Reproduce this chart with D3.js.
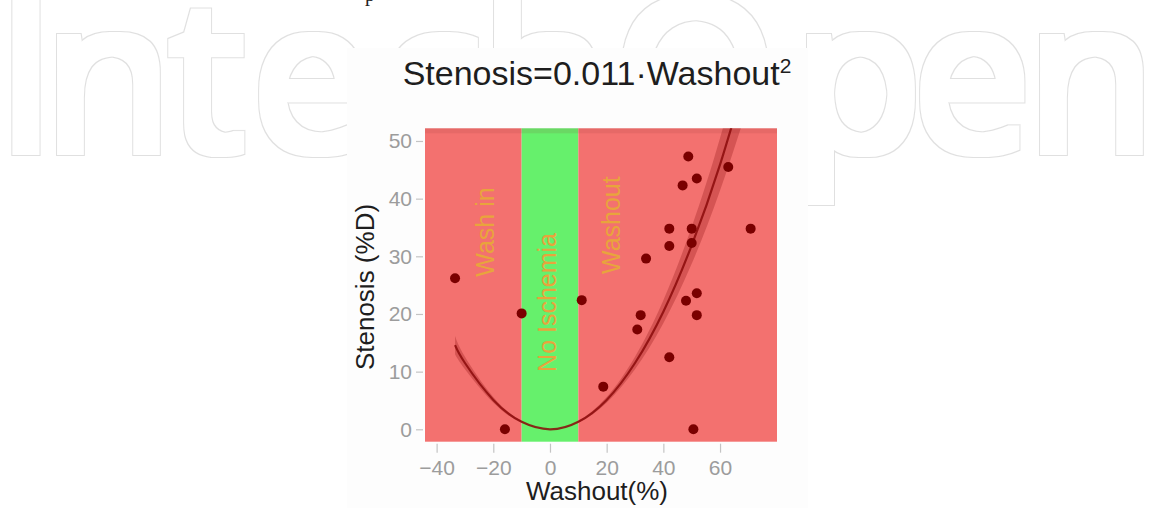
<!DOCTYPE html>
<html>
<head>
<meta charset="utf-8">
<script src="https://cdn.jsdelivr.net/npm/d3@7"></script>
<style>
    body { margin: 0; background: #ffffff; }
    svg { display: block; }
</style>
</head>
<body>
<div id="my_dataviz"></div>
<script>
// measured points (Washout %, Stenosis %D)
var washout = [-33.5, -15.9, -10.0, 11.2, 18.8, 30.8, 32.0, 33.9, 42.1, 42.1, 42.1,
    46.8, 48.0, 48.8, 50.0, 50.0, 50.6, 51.8, 51.8, 51.8, 62.9, 70.8];
var stenosis = [26.2, 0.0, 20.1, 22.4, 7.4, 17.3, 19.8, 29.6, 12.5, 31.8, 34.8,
    42.3, 22.3, 47.3, 32.3, 34.8, 0.0, 43.5, 23.6, 19.8, 45.5, 34.8];

// fitted curve and its band
var fitX = [-33.5, -30, -20, -10, 0, 10, 20, 30, 40, 50, 60, 70];
var fitY = [14.6, 11.5, 5.1, 1.3, 0, 1.3, 5.1, 11.5, 20.4, 31.9, 45.9, 62.5];
var fitLow = [13.0, 10.4, 4.6, 1.15, 0, 1.15, 4.6, 10.4, 18.4, 28.7, 41.4, 56.3];
var fitHigh = [16.2, 12.6, 5.6, 1.45, 0, 1.45, 5.6, 12.6, 22.4, 35.1, 50.5, 68.8];

// zones
var zoneNames = ["Wash in", "No Ischemia", "Washout"];
var zoneStart = [-44.1, -10, 10];
var zoneEnd = [-10, 10, 80.1];
var zoneColors = ["#f3716f", "#66f06c", "#f3716f"];
var zoneLabelX = [-23, -1, 21.5];
var zoneLabelY = [34.2, 22, 35.4];

var xTicks = [-40, -20, 0, 20, 40, 60];
var yTicks = [0, 10, 20, 30, 40, 50];

// watermark letters and where they sit
var markLetters = ["I", "n", "t", "e", "c", "h", "O", "p", "e", "n"];
var markCenters = [26, 108, 207, 311, 430, 545, 695, 858, 972, 1091];

var W = 1149, H = 508;
var font = "'Liberation Sans', Arial, Helvetica, sans-serif";

var svg = d3.select("#my_dataviz")
    .append("svg")
    .attr("width", W)
    .attr("height", H);

// ---------------- watermark behind the figure ----------------
// outline filter: ring between two dilations of the glyph shape
var filt = svg.append("defs").append("filter")
    .attr("id", "outline")
    .attr("x", "-20%").attr("y", "-20%")
    .attr("width", "140%").attr("height", "140%");
filt.append("feMorphology").attr("in", "SourceAlpha")
    .attr("operator", "dilate").attr("radius", 6).attr("result", "outer");
filt.append("feMorphology").attr("in", "SourceAlpha")
    .attr("operator", "dilate").attr("radius", 4.6).attr("result", "inner");
filt.append("feComposite").attr("in", "outer").attr("in2", "inner")
    .attr("operator", "out").attr("result", "ring");
filt.append("feFlood").attr("flood-color", "#e0e0e0").attr("result", "col");
filt.append("feComposite").attr("in", "col").attr("in2", "ring").attr("operator", "in");

svg.append("g")
    .attr("filter", "url(#outline)")
    .selectAll("text")
    .data(markLetters)
    .enter()
    .append("text")
    .attr("x", function (d, i) { return markCenters[i]; })
    .attr("y", 150)
    .attr("text-anchor", "middle")
    .style("font-family", "'Open Sans', sans-serif")
    .style("font-size", "208px")
    .attr("fill", "#000")
    .text(function (d) { return d; });

// stray glyph at the very top
svg.append("text")
    .attr("x", 365)
    .attr("y", 1)
    .style("font-family", "'Liberation Serif', serif")
    .style("font-size", "20px")
    .attr("fill", "#222")
    .text("p");

// figure background
svg.append("rect")
    .attr("x", 347)
    .attr("y", 48)
    .attr("width", 461)
    .attr("height", 460)
    .attr("fill", "#fdfdfd");

// ---------------- panel ----------------
var panel = { left: 425, right: 777, top: 128.3, bottom: 441.7 };

var x = d3.scaleLinear()
    .domain([-44.1, 80.1])
    .range([panel.left, panel.right]);

var y = d3.scaleLinear()
    .domain([-2.15, 52.2])
    .range([panel.bottom, panel.top]);

svg.append("clipPath")
    .attr("id", "panel-clip")
    .append("rect")
    .attr("x", panel.left)
    .attr("y", panel.top)
    .attr("width", panel.right - panel.left)
    .attr("height", panel.bottom - panel.top);

// zone rectangles
svg.selectAll("rect.zone")
    .data(zoneNames)
    .enter()
    .append("rect")
    .attr("class", "zone")
    .attr("x", function (d, i) { return x(zoneStart[i]); })
    .attr("y", panel.top)
    .attr("width", function (d, i) { return x(zoneEnd[i]) - x(zoneStart[i]); })
    .attr("height", panel.bottom - panel.top)
    .attr("fill", function (d, i) { return zoneColors[i]; });

// slightly darker strip along the top edge
svg.append("rect")
    .attr("x", panel.left)
    .attr("y", panel.top)
    .attr("width", panel.right - panel.left)
    .attr("height", 5)
    .attr("fill", "#8a3030")
    .attr("opacity", 0.12);

// zone labels
svg.selectAll("text.zone-label")
    .data(zoneNames)
    .enter()
    .append("text")
    .attr("class", "zone-label")
    .attr("transform", function (d, i) {
        return "translate(" + x(zoneLabelX[i]) + "," + y(zoneLabelY[i]) + ") rotate(-90)";
    })
    .attr("text-anchor", "middle")
    .attr("dy", "0.35em")
    .style("font-family", font)
    .style("font-size", "25px")
    .attr("fill", "#e8a43c")
    .text(function (d) { return d; });

// confidence band + fit line
var fitIdx = d3.range(fitX.length);
var plot = svg.append("g").attr("clip-path", "url(#panel-clip)");

plot.append("path")
    .datum(fitIdx)
    .attr("fill", "#7a0000")
    .attr("fill-opacity", 0.25)
    .attr("stroke", "none")
    .attr("d", d3.area()
        .curve(d3.curveNatural)
        .x(function (i) { return x(fitX[i]); })
        .y0(function (i) { return y(fitLow[i]); })
        .y1(function (i) { return y(fitHigh[i]); })
    );

plot.append("path")
    .datum(fitIdx)
    .attr("fill", "none")
    .attr("stroke", "#8b0b0b")
    .attr("stroke-opacity", 0.85)
    .attr("stroke-width", 2.2)
    .attr("d", d3.line()
        .curve(d3.curveNatural)
        .x(function (i) { return x(fitX[i]); })
        .y(function (i) { return y(fitY[i]); })
    );

// points
svg.selectAll("circle.pt")
    .data(washout)
    .enter()
    .append("circle")
    .attr("class", "pt")
    .attr("cx", function (d) { return x(d); })
    .attr("cy", function (d, i) { return y(stenosis[i]); })
    .attr("r", 5)
    .attr("fill", "#7a0000");

// ---------------- axes ----------------
var xAxis = svg.append("g")
    .attr("transform", "translate(0," + (panel.bottom + 2) + ")")
    .call(d3.axisBottom(x).tickValues(xTicks).tickSize(9).tickPadding(7));

var yAxis = svg.append("g")
    .attr("transform", "translate(" + (panel.left - 2) + ",0)")
    .call(d3.axisLeft(y).tickValues(yTicks).tickSize(7).tickPadding(4));

[xAxis, yAxis].forEach(function (g) {
    g.select(".domain").remove();
    g.selectAll("line").attr("stroke", "#c4c4c4").attr("stroke-width", 1.2);
    g.selectAll("text")
        .attr("fill", "#9c9c9c")
        .style("font-family", font)
        .style("font-size", "21px");
});

// axis titles
svg.append("text")
    .attr("x", 597)
    .attr("y", 500)
    .attr("text-anchor", "middle")
    .style("font-family", font)
    .style("font-size", "26px")
    .attr("fill", "#1e1e1e")
    .text("Washout(%)");

svg.append("text")
    .attr("transform", "translate(374," + 287 + ") rotate(-90)")
    .attr("text-anchor", "middle")
    .style("font-family", font)
    .style("font-size", "26px")
    .attr("fill", "#1e1e1e")
    .text("Stenosis (%D)");

// title
var title = svg.append("text")
    .attr("x", 597)
    .attr("y", 85)
    .attr("text-anchor", "middle")
    .style("font-family", font)
    .style("font-size", "34px")
    .attr("fill", "#1e1e1e")
    .text("Stenosis=0.011\u00b7Washout");

title.append("tspan")
    .attr("dy", -12)
    .style("font-size", "21px")
    .text("2");
</script>
</body>
</html>
